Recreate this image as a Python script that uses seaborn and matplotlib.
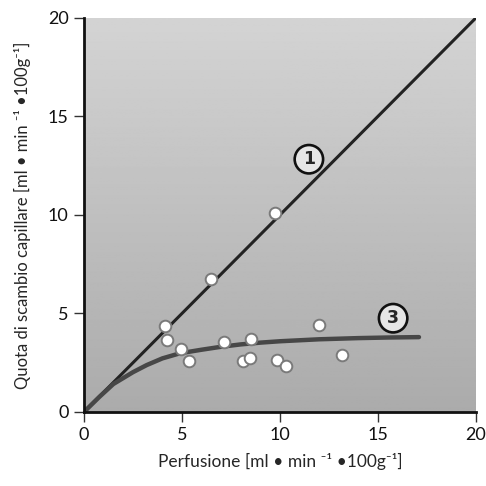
import numpy as np
import pandas as pd
import matplotlib
matplotlib.use("Agg")
import matplotlib.pyplot as plt
import seaborn as sns

# measured points (perfusion vs capillary exchange rate)
perf_x = [9.74, 6.46, 4.15, 4.25, 4.93, 5.36, 7.16, 8.55, 8.10, 8.45, 9.86, 10.32, 11.99, 13.18]
exch_y = [10.1, 6.74, 4.38, 3.65, 3.18, 2.57, 3.55, 3.70, 2.57, 2.74, 2.65, 2.35, 4.43, 2.91]

# line 1: identity
line1_x = [0, 20]
line1_y = [0, 20]

# curve 3
curve3_x = [0, 0.8, 1.5, 2.5, 3.2, 4.0, 4.9, 6.0, 7.0, 8.0, 9.0, 10.0, 12.0, 14.0, 15.5, 17.1]
curve3_y = [0, 0.78, 1.42, 2.02, 2.38, 2.72, 2.98, 3.16, 3.31, 3.43, 3.52, 3.59, 3.69, 3.75, 3.78, 3.80]

xticks = [0, 5, 10, 15, 20]
yticks = [0, 5, 10, 15, 20]

sns.set_style("ticks")
plt.rcParams['font.family'] = ['Lato', 'DejaVu Sans']

fig = plt.figure(figsize=(4.86, 4.86), dpi=100)
ax = fig.add_axes([0.1728, 0.1523, 0.8062, 0.8107])

# gray gradient background, lighter at the top
grad = np.linspace(0.83, 0.67, 256).reshape(-1, 1)
ax.imshow(grad, extent=[0, 20, 0, 20], cmap="gray", vmin=0, vmax=1,
          aspect="auto", zorder=0, origin="upper")

sns.lineplot(x=line1_x, y=line1_y, ax=ax, color="#222222", linewidth=2.2, zorder=2)
sns.lineplot(x=curve3_x, y=curve3_y, ax=ax, color="#474747", linewidth=3.2, zorder=2)
sns.scatterplot(x=perf_x, y=exch_y, ax=ax, s=70, color="white",
                edgecolor="#7a7a7a", linewidth=1.4, zorder=3)

circ = dict(boxstyle="circle,pad=0.3", fc="#e6e6e6", ec="#111111", lw=1.9)
ax.text(11.48, 12.83, "1", ha="center", va="center", fontsize=12.5,
        family="DejaVu Sans", fontweight="bold", bbox=circ, zorder=4)
ax.text(15.78, 4.76, "3", ha="center", va="center", fontsize=12.5,
        family="DejaVu Sans", fontweight="bold", bbox=circ, zorder=4)

ax.set_xlim(0, 20)
ax.set_ylim(0, 20)
ax.set_xticks(xticks)
ax.set_yticks(yticks)
ax.tick_params(axis="both", length=7, width=1, color="#333333", labelsize=13,
               labelcolor="#111111", pad=4)

sns.despine(ax=ax)
ax.spines["left"].set_linewidth(2)
ax.spines["bottom"].set_linewidth(2)
ax.spines["left"].set_color("#111111")
ax.spines["bottom"].set_color("#111111")

ax.set_xlabel("Perfusione [ml • min ⁻¹ •100g⁻¹]", fontsize=12.5, labelpad=7)
ax.set_ylabel("Quota di scambio capillare [ml • min ⁻¹ •100g⁻¹]", fontsize=12, labelpad=12)

fig.savefig("out.png", dpi=100)
